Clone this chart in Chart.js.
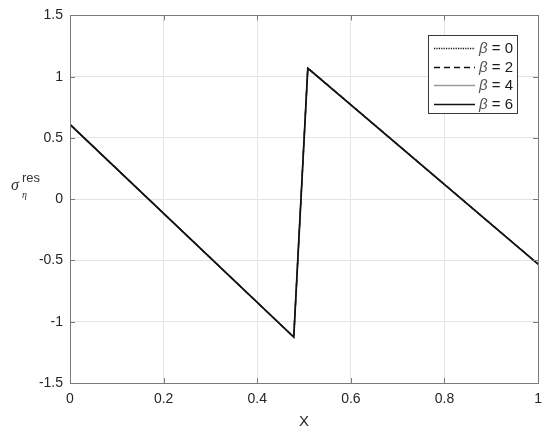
<!DOCTYPE html>
<html>
<head>
<meta charset="utf-8">
<script src="https://cdn.jsdelivr.net/npm/chart.js@4/dist/chart.umd.min.js"></script>
<style>
html,body{margin:0;padding:0;background:#fff;}
#wrap{width:550px;height:435px;position:relative;}
</style>
</head>
<body>
<div id="wrap"><canvas id="c" width="550" height="435"></canvas></div>
<script>
// ---- data ----
const xValues = [0, 0.478, 0.508, 1];
const beta0 = [0.61, -1.125, 1.072, -0.53];
const beta2 = [0.61, -1.125, 1.070, -0.53];
const beta4 = [0.61, -1.125, 1.070, -0.53];
const beta6 = [0.61, -1.125, 1.068, -0.53];
const seriesLabels = ['\u03B2 = 0', '\u03B2 = 2', '\u03B2 = 4', '\u03B2 = 6'];
const xTicks = [0, 0.2, 0.4, 0.6, 0.8, 1];
const yTicks = [-1.5, -1, -0.5, 0, 0.5, 1, 1.5];

const toPts = ys => xValues.map((x, i) => ({x: x, y: ys[i]}));
const FONT = '"Liberation Sans", Arial, sans-serif';
const AXIS_COLOR = '#7a7a7a';

const styles = [
  {borderColor:'#111', borderDash:[1.2,1.2], borderWidth:1.3, order:3},
  {borderColor:'#111', borderDash:[6,4], borderWidth:1.4, order:2},
  {borderColor:'#9a9a9a', borderDash:[], borderWidth:1.4, order:1},
  {borderColor:'#111', borderDash:[], borderWidth:1.7, order:0}
];
const allSeries = [beta0, beta2, beta4, beta6];

const datasets = allSeries.map((s, i) => Object.assign({
  label: seriesLabels[i],
  data: toPts(s),
  pointRadius: 0,
  fill: false,
  tension: 0
}, styles[i]));

const frameAndLegend = {
  id: 'frameAndLegend',
  afterDatasetsDraw(chart) {
    const ctx = chart.ctx;
    const a = chart.chartArea;
    const xs = chart.scales.x, ys = chart.scales.y;
    ctx.save();
    // frame
    ctx.strokeStyle = AXIS_COLOR;
    ctx.lineWidth = 1;
    ctx.setLineDash([]);
    ctx.strokeRect(Math.round(a.left)+0.5, Math.round(a.top)+0.5, Math.round(a.right-a.left), Math.round(a.bottom-a.top));
    // inward ticks
    const tl = 5;
    ctx.beginPath();
    xTicks.forEach(v => {
      const px = Math.round(xs.getPixelForValue(v)) + 0.5;
      ctx.moveTo(px, a.bottom); ctx.lineTo(px, a.bottom - tl);
      ctx.moveTo(px, a.top); ctx.lineTo(px, a.top + tl);
    });
    yTicks.forEach(v => {
      const py = Math.round(ys.getPixelForValue(v)) + 0.5;
      ctx.moveTo(a.left, py); ctx.lineTo(a.left + tl, py);
      ctx.moveTo(a.right, py); ctx.lineTo(a.right - tl, py);
    });
    ctx.stroke();

    // legend
    const bx = 428.5, by = 35.5, bw = 89, bh = 78;
    ctx.fillStyle = '#fff';
    ctx.fillRect(bx, by, bw, bh);
    ctx.strokeStyle = '#3a3a3a';
    ctx.lineWidth = 1;
    ctx.strokeRect(bx, by, bw, bh);
    const rows = [48, 67, 85, 104];
    chart.data.datasets.forEach((ds, i) => {
      const y = rows[i];
      ctx.beginPath();
      ctx.strokeStyle = ds.borderColor;
      ctx.lineWidth = ds.borderWidth;
      ctx.setLineDash(ds.borderDash || []);
      ctx.moveTo(434, y + 0.5);
      ctx.lineTo(475, y + 0.5);
      ctx.stroke();
      ctx.setLineDash([]);
      ctx.textBaseline = 'middle';
      ctx.textAlign = 'left';
      ctx.font = 'italic 15px ' + FONT;
      ctx.fillStyle = '#555';
      ctx.fillText('\u03B2', 479, y + 1);
      const bwid = ctx.measureText('\u03B2').width;
      ctx.font = '15px ' + FONT;
      ctx.fillStyle = '#1a1a1a';
      ctx.fillText(ds.label.slice(1), 479 + bwid, y + 1);
    });

    // y-axis label sigma_eta^res
    ctx.fillStyle = '#333';
    ctx.textBaseline = 'alphabetic';
    ctx.textAlign = 'left';
    ctx.font = 'italic 16px "Liberation Serif", serif';
    ctx.fillText('\u03C3', 11, 190);
    ctx.font = '13px ' + FONT;
    ctx.fillText('res', 22, 182);
    ctx.font = 'italic 10px "Liberation Serif", serif';
    ctx.fillText('\u03B7', 22, 198);
    ctx.restore();
  }
};

new Chart(document.getElementById('c'), {
  type: 'line',
  data: { datasets: datasets },
  options: {
    responsive: false,
    animation: false,
    events: [],
    layout: { padding: { top: 15, right: 11, left: 0, bottom: 0 } },
    plugins: { legend: { display: false }, tooltip: { enabled: false } },
    scales: {
      x: {
        type: 'linear',
        min: 0, max: 1,
        afterBuildTicks: s => { s.ticks = xTicks.map(v => ({value: v})); },
        afterFit: s => { s.height = 52; },
        grid: { color: '#e4e4e4', lineWidth: 1, drawTicks: false },
        border: { display: false },
        ticks: {
          padding: 8,
          color: '#262626',
          font: { family: FONT, size: 14 },
          callback: v => String(v),
          maxRotation: 0
        },
        title: {
          display: true, text: 'X', color: '#262626',
          font: { family: FONT, size: 15 },
          padding: { top: 0, bottom: 4 }
        }
      },
      y: {
        type: 'linear',
        min: -1.5, max: 1.5,
        afterBuildTicks: s => { s.ticks = yTicks.map(v => ({value: v})); },
        afterFit: s => { s.width = 70; },
        grid: { color: '#e4e4e4', lineWidth: 1, drawTicks: false },
        border: { display: false },
        ticks: {
          padding: 7,
          color: '#262626',
          font: { family: FONT, size: 14 },
          callback: v => String(v)
        }
      }
    }
  },
  plugins: [frameAndLegend]
});
</script>
</body>
</html>
